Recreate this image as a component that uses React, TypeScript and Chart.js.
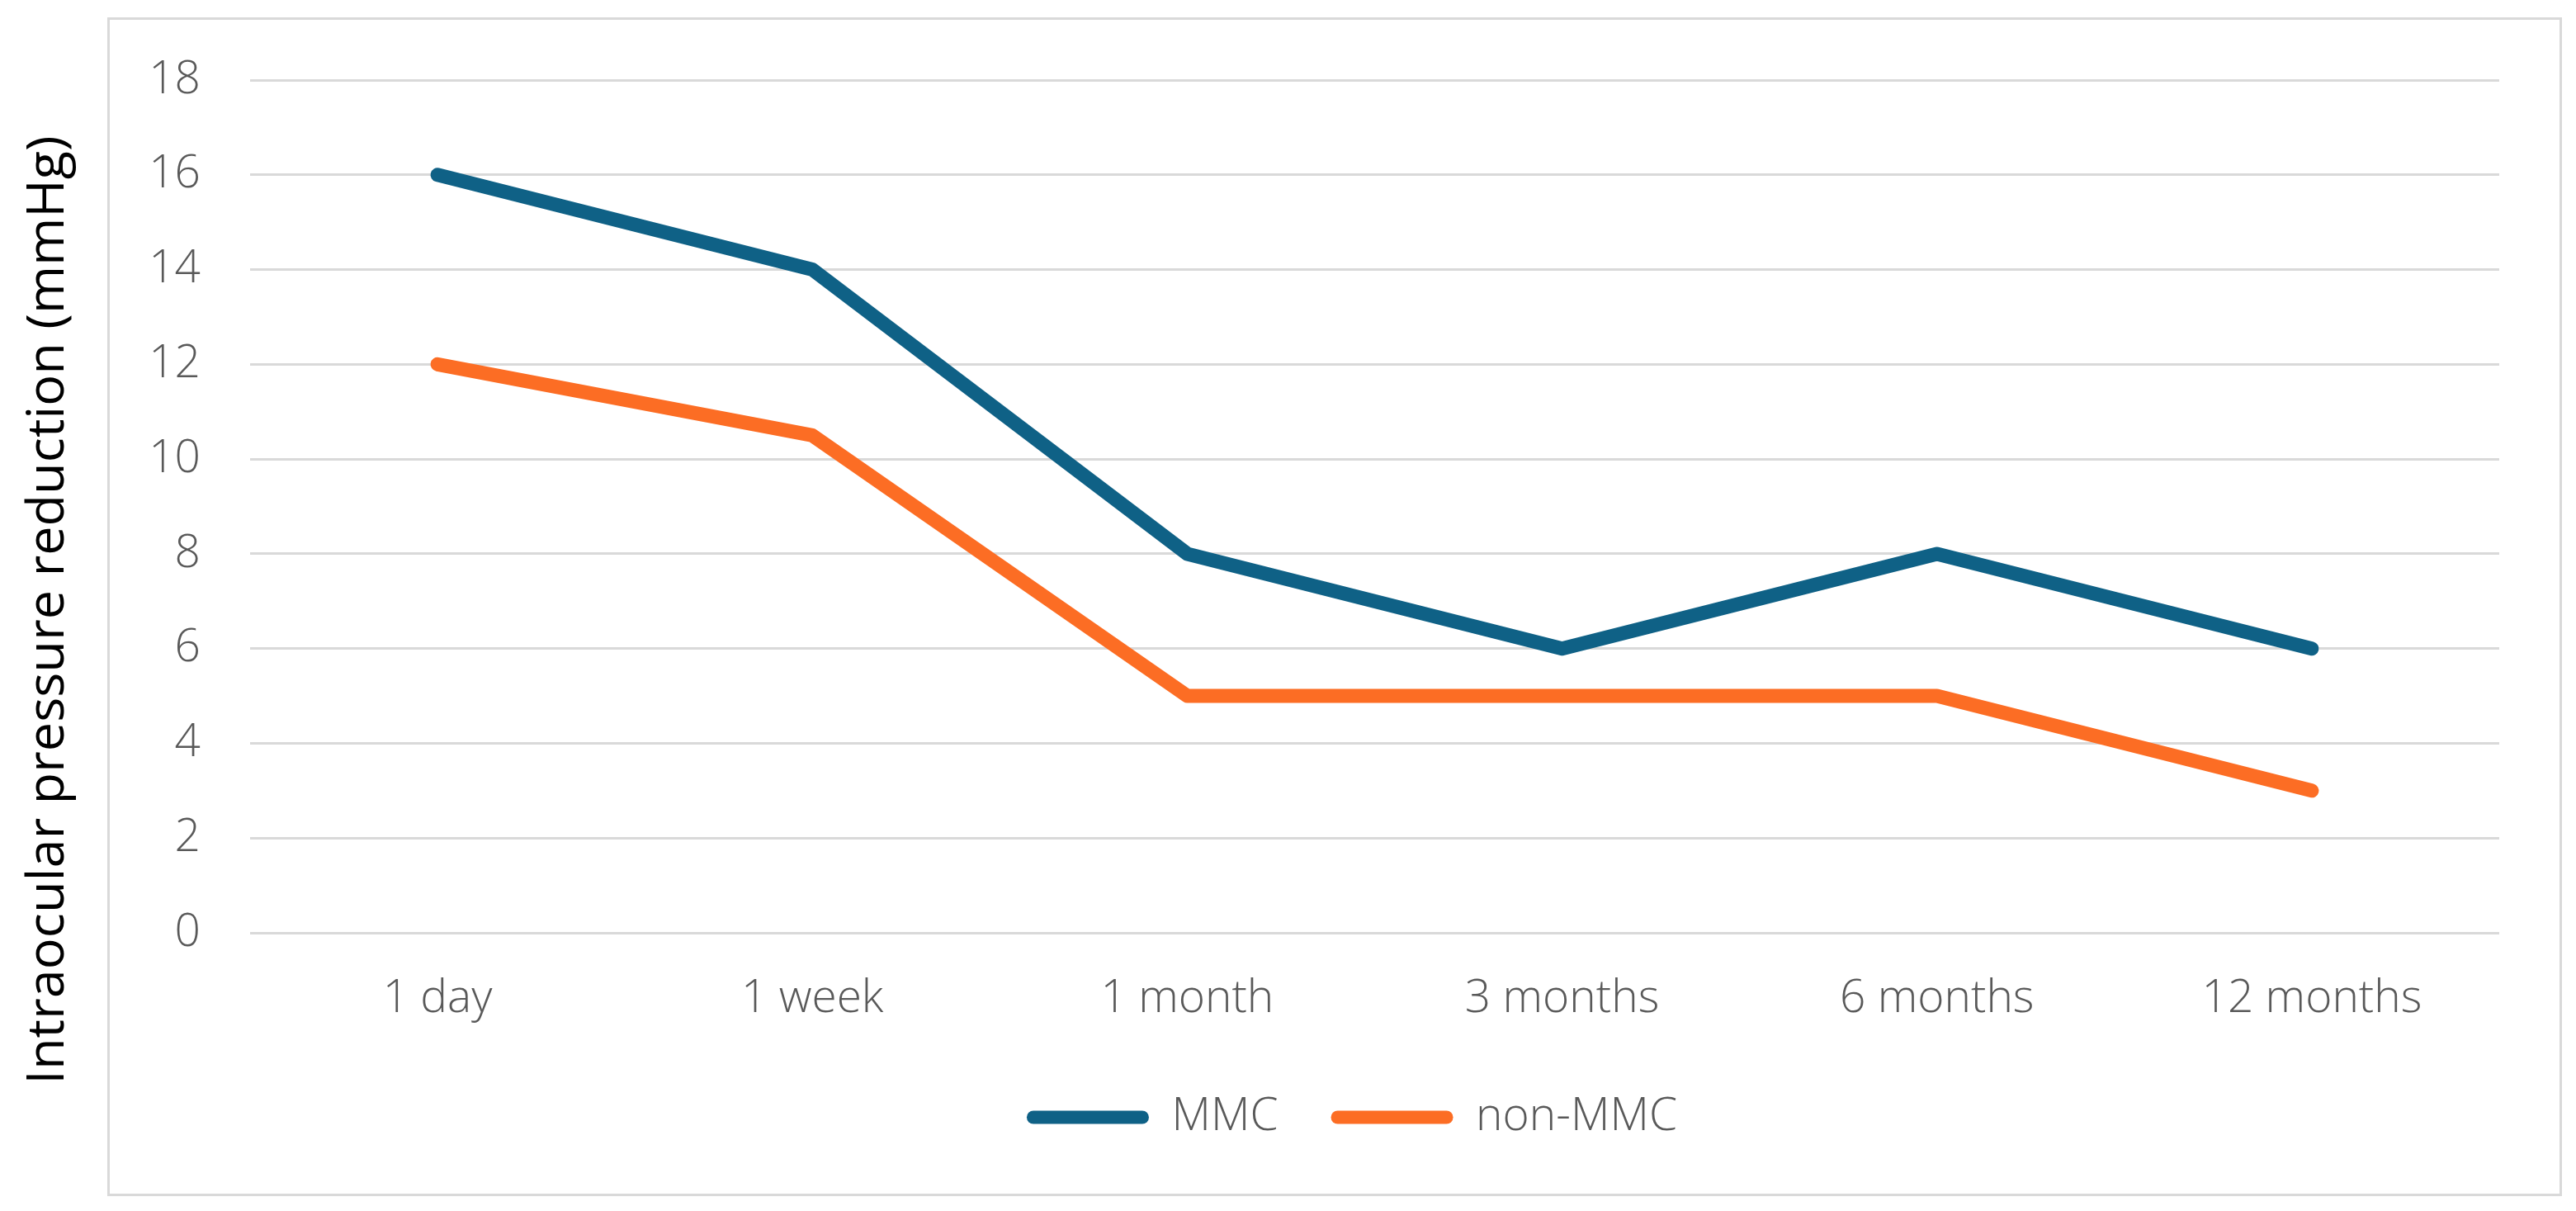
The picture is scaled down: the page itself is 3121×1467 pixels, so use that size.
import React, { useEffect, useRef } from 'react'
import { Chart, registerables } from 'chart.js'

Chart.register(...registerables)

// ---------------------------------------------------------------------------
// data
// ---------------------------------------------------------------------------

const timepoints = ['1 day', '1 week', '1 month', '3 months', '6 months', '12 months']
const mmcValues = [16, 14, 8, 6, 8, 6]
const nonMmcValues = [12, 10.5, 5, 5, 5, 3]
const yTicks = [0, 2, 4, 6, 8, 10, 12, 14, 16, 18]

const MMC_COLOR = '#0F6186'
const NON_MMC_COLOR = '#FC6D24'
const GRID_COLOR = '#d9d9d9'
const TEXT_COLOR = '#595959'
const FONT = '"Open Sans", "Liberation Sans", sans-serif'
const TEXT_FONT = { family: FONT, size: 55, weight: 300 }

const W = 3121
const H = 1467

// the legend is centred under the plot box, not under the whole canvas
const LEGEND_SHIFT = 124

const legendShift = {
  id: 'legendShift',
  afterLayout(chart: any) {
    if (!chart.legend) return
    chart.legend.left += LEGEND_SHIFT
    chart.legend.right += LEGEND_SHIFT
  },
}

export default function App() {
  const canvasRef = useRef<HTMLCanvasElement>(null)
  const chartRef = useRef<Chart | null>(null)

  useEffect(() => {
    if (!canvasRef.current) return
    if (chartRef.current) chartRef.current.destroy()

    const defaultLabels = Chart.defaults.plugins.legend.labels.generateLabels

    chartRef.current = new Chart(canvasRef.current, {
      type: 'line',
      data: {
        labels: timepoints,
        datasets: [
          {
            label: 'MMC',
            data: mmcValues,
            borderColor: MMC_COLOR,
            backgroundColor: MMC_COLOR,
            borderWidth: 17,
            pointRadius: 0,
            tension: 0,
            borderCapStyle: 'round',
            borderJoinStyle: 'round',
          },
          {
            label: 'non-MMC',
            data: nonMmcValues,
            borderColor: NON_MMC_COLOR,
            backgroundColor: NON_MMC_COLOR,
            borderWidth: 17,
            pointRadius: 0,
            tension: 0,
            borderCapStyle: 'round',
            borderJoinStyle: 'round',
          },
        ],
      },
      options: {
        animation: false,
        responsive: true,
        maintainAspectRatio: false,
        devicePixelRatio: 1,
        layout: {
          padding: { top: 97, right: 93, left: 0, bottom: 76 },
        },
        scales: {
          x: {
            offset: true,
            grid: { display: false, drawTicks: false },
            border: { display: false },
            ticks: {
              color: TEXT_COLOR,
              font: TEXT_FONT,
              padding: 47,
              maxRotation: 0,
            },
            afterFit: (scale: any) => {
              scale.height = 132
            },
          },
          y: {
            min: yTicks[0],
            max: yTicks[yTicks.length - 1],
            grid: { color: GRID_COLOR, lineWidth: 3, drawTicks: false },
            border: { display: false },
            ticks: {
              stepSize: yTicks[1] - yTicks[0],
              color: TEXT_COLOR,
              font: TEXT_FONT,
              padding: 60,
            },
            afterFit: (scale: any) => {
              scale.width = 303
            },
          },
        },
        plugins: {
          tooltip: { enabled: false },
          legend: {
            position: 'bottom',
            labels: {
              color: TEXT_COLOR,
              font: TEXT_FONT,
              boxWidth: 148,
              boxHeight: 16,
              padding: 64,
              useBorderRadius: true,
              borderRadius: 8,
              generateLabels: (chart: any) =>
                defaultLabels(chart).map((item: any) => ({
                  ...item,
                  lineWidth: 0,
                  strokeStyle: 'transparent',
                })),
            },
          },
        },
      } as any,
      plugins: [legendShift],
    })

    return () => {
      if (chartRef.current) {
        chartRef.current.destroy()
        chartRef.current = null
      }
    }
  }, [])

  return (
    <div
      style={{
        position: 'fixed',
        left: 0,
        top: 0,
        width: W,
        height: H,
        background: '#ffffff',
        overflow: 'hidden',
      }}
    >
      {/* frame around the plot */}
      <div
        style={{
          position: 'absolute',
          left: 130,
          top: 21,
          width: 3104 - 130,
          height: 1449 - 21,
          border: `3px solid ${GRID_COLOR}`,
          boxSizing: 'border-box',
        }}
      />

      {/* y axis title sits outside the frame */}
      <div
        style={{
          position: 'absolute',
          left: 52,
          top: 739,
          width: 1400,
          height: 63,
          lineHeight: '63px',
          transform: 'translate(-50%, -50%) rotate(-90deg)',
          textAlign: 'center',
          fontFamily: FONT,
          fontSize: 63,
          color: '#000000',
          whiteSpace: 'nowrap',
        }}
      >
        Intraocular pressure reduction (mmHg)
      </div>

      <div style={{ position: 'absolute', left: 0, top: 0, width: W, height: H }}>
        <canvas ref={canvasRef}></canvas>
      </div>
    </div>
  )
}
